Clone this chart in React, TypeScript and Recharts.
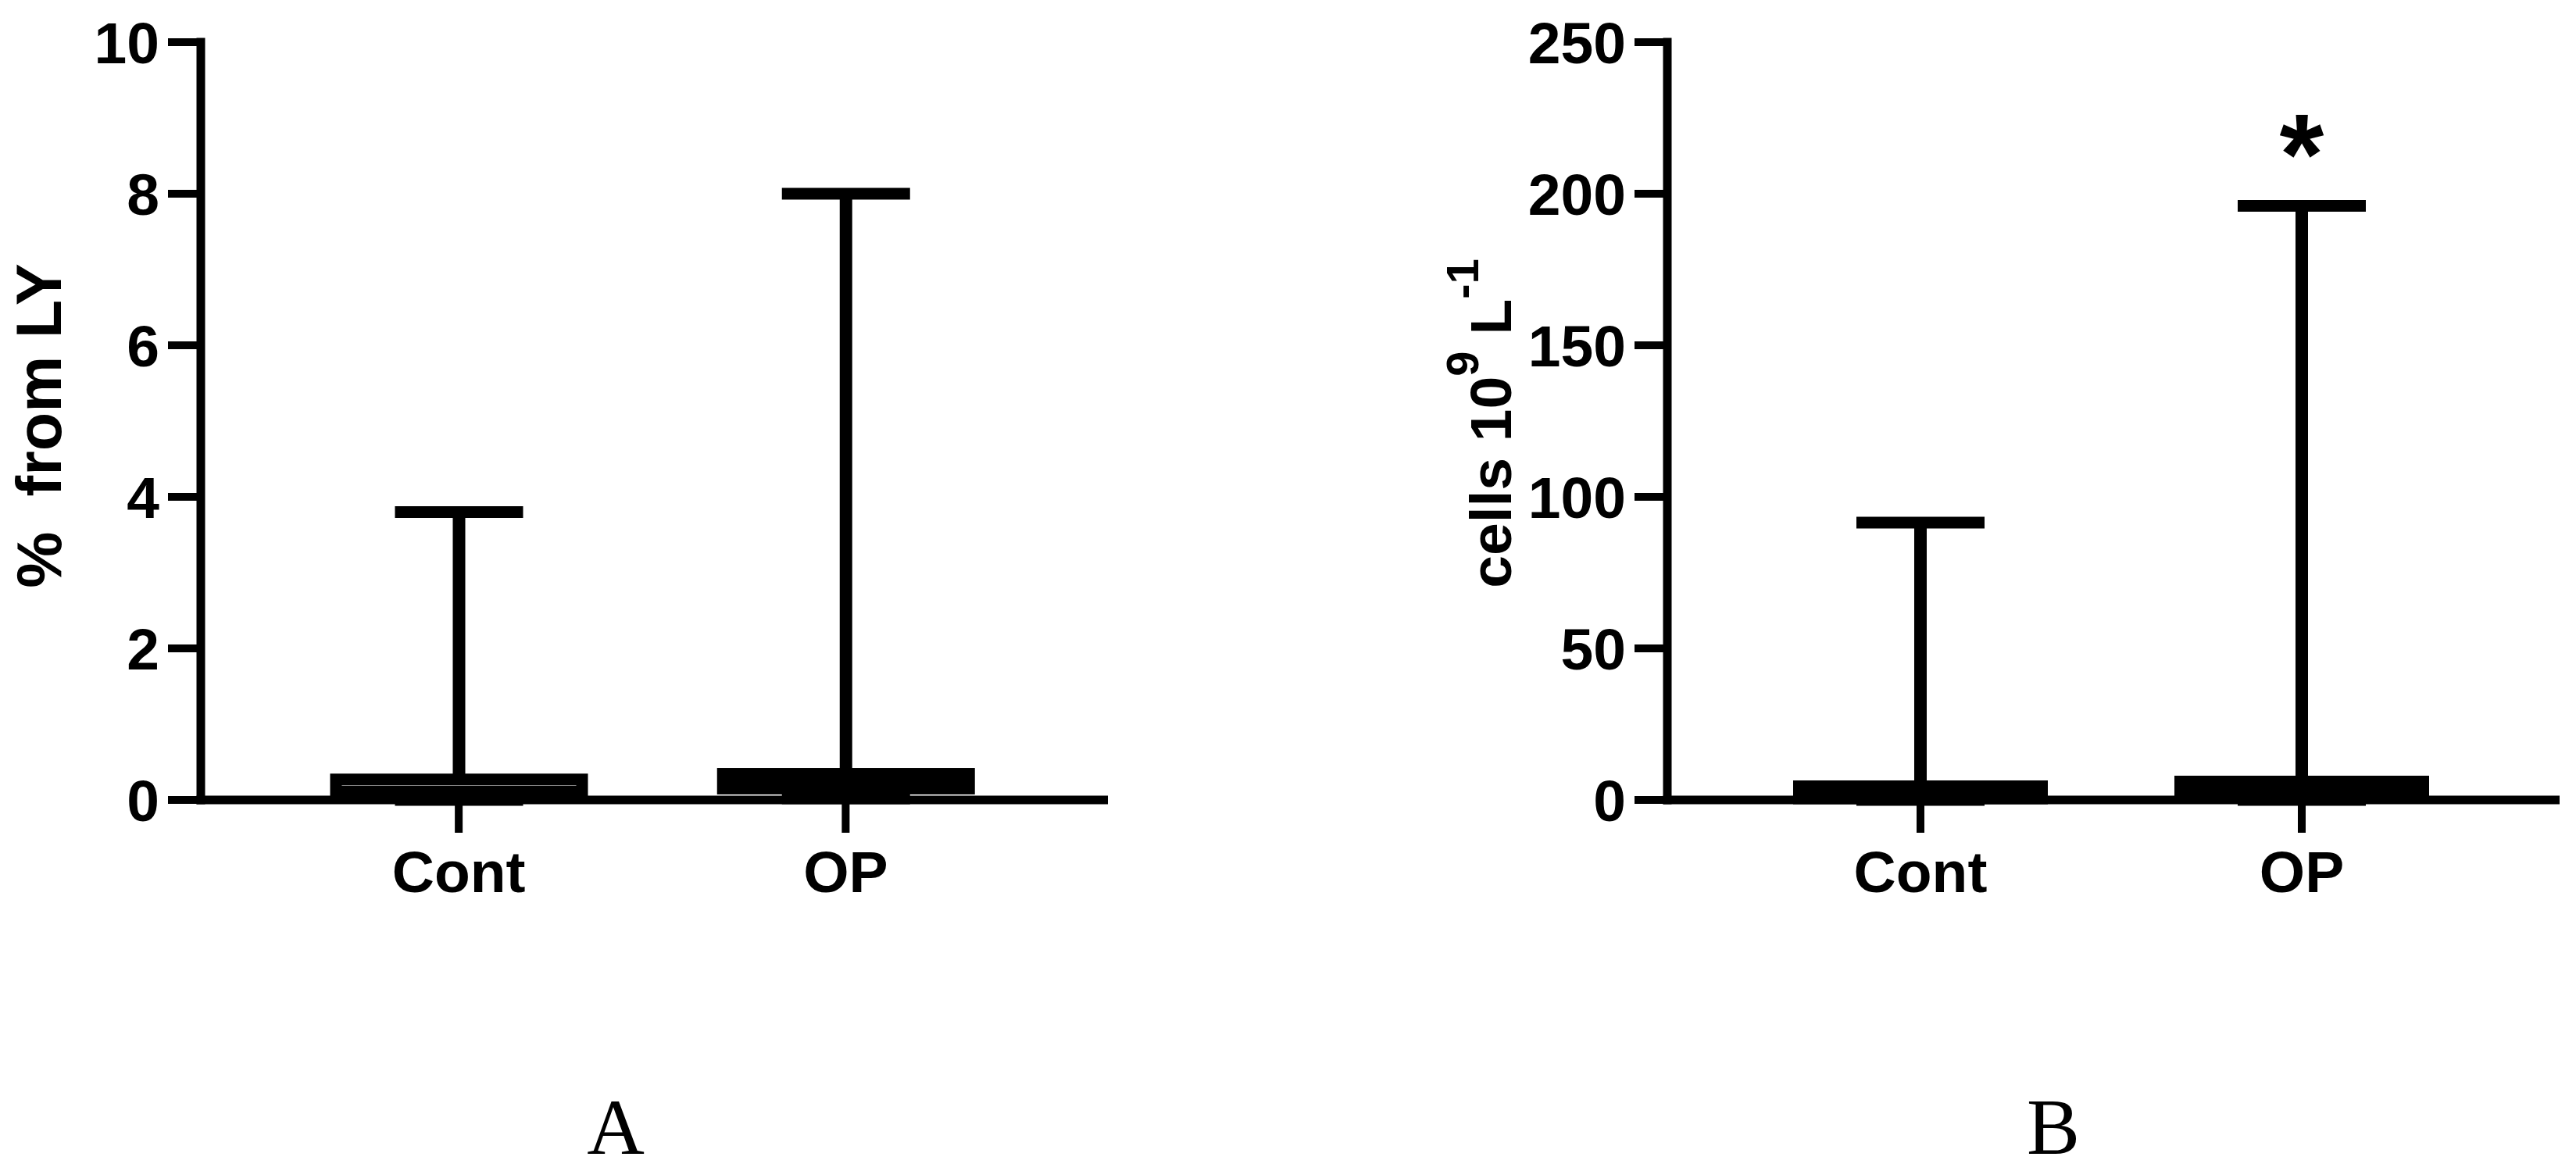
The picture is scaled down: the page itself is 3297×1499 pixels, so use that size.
import React from "react"
import { ComposedChart, Bar, XAxis, YAxis, Label } from "recharts"

const groups = ["Cont", "OP"]

// panel A: % from LY
const lyMin = [0, 0.02]
const lyQ1 = [0.05, 0.15]
const lyMedian = [0.11, 0.25]
const lyQ3 = [0.27, 0.345]
const lyMax = [3.8, 8.0]
const lyTicks = [0, 2, 4, 6, 8, 10]

// panel B: cells 10^9 L^-1
const cellsMin = [0, 0]
const cellsQ1 = [0.5, 1.0]
const cellsMedian = [2.0, 3.0]
const cellsQ3 = [4.5, 6.06]
const cellsMax = [91.5, 196]
const cellsTicks = [0, 50, 100, 150, 200, 250]
const cellsSig = ["", "*"]

const font = "'Liberation Sans', Arial, sans-serif"

function buildRows(min: number[], q1: number[], med: number[], q3: number[], max: number[], sig?: string[]) {
    return groups.map((g, i) => ({
        group: g,
        min: min[i],
        q1: q1[i],
        median: med[i],
        q3: q3[i],
        max: max[i],
        sig: sig ? sig[i] : "",
    }))
}

const lyRows = buildRows(lyMin, lyQ1, lyMedian, lyQ3, lyMax)
const cellsRows = buildRows(cellsMin, cellsQ1, cellsMedian, cellsQ3, cellsMax, cellsSig)

const makeBox = (capWidth: number) => (props: any) => {
    const { x, y, width, height, payload } = props
    const { min, q1, median, q3, max, sig } = payload
    const top = Math.min(y, y + height)
    const bottom = Math.max(y, y + height)
    const span = max - min || 1
    const py = (v: number) => bottom - ((bottom - top) * (v - min)) / span
    const cx = x + width / 2
    return (
        <g>
            <line x1={cx} x2={cx} y1={py(max)} y2={py(q3)} stroke="#000" strokeWidth={16} />
            <line x1={cx} x2={cx} y1={py(q1)} y2={py(min)} stroke="#000" strokeWidth={16} />
            <line x1={cx - capWidth / 2} x2={cx + capWidth / 2} y1={py(max)} y2={py(max)} stroke="#000" strokeWidth={15} />
            <line x1={cx - capWidth / 2} x2={cx + capWidth / 2} y1={py(min)} y2={py(min)} stroke="#000" strokeWidth={15} />
            <rect x={x + 7.5} y={py(q3)} width={width - 15} height={py(q1) - py(q3)} fill="#fff" stroke="#000" strokeWidth={15} />
            <line x1={x + 7.5} x2={x + width - 7.5} y1={py(median)} y2={py(median)} stroke="#000" strokeWidth={15} />
            {sig ? (
                <text x={cx} y={py(max) - 16} textAnchor="middle" fontFamily={font} fontWeight={700} fontSize={146} fill="#000">
                    {sig}
                </text>
            ) : null}
        </g>
    )
}

const tickStyle = { fill: "#000", fontSize: 75, fontWeight: 700, fontFamily: font }
const axisLineStyle = { stroke: "#000", strokeWidth: 11, strokeLinecap: "square" as const }
const tickLineStyle = { stroke: "#000", strokeWidth: 10 }

export default function App() {
    return (
        <div style={{ position: "absolute", left: 0, top: 0, width: 3297, height: 1499, background: "#fff" }}>
            <div style={{ position: "absolute", left: 0, top: 0 }}>
                <ComposedChart width={1480} height={1300} data={lyRows} margin={{ top: 54, right: 67.5, bottom: 76, left: 0 }}>
                    <XAxis
                        dataKey="group"
                        type="category"
                        padding={{ left: 82.5, right: 82.5 }}
                        height={200}
                        interval={0}
                        tickSize={42}
                        tickMargin={23}
                        tick={tickStyle}
                        axisLine={axisLineStyle}
                        tickLine={tickLineStyle}
                    />
                    <YAxis
                        type="number"
                        domain={[0, 10]}
                        ticks={lyTicks}
                        interval={0}
                        width={257}
                        tickSize={42}
                        tickMargin={11}
                        tick={tickStyle}
                        axisLine={axisLineStyle}
                        tickLine={tickLineStyle}
                    >
                        <Label
                            content={() => (
                                <text transform="translate(78,545) rotate(-90)" textAnchor="middle" fontFamily={font} fontWeight={700} fontSize={81} fill="#000">
                                    {"%\u00a0 from LY"}
                                </text>
                            )}
                        />
                    </YAxis>
                    <Bar dataKey={(d: any) => [d.min, d.max]} barSize={330} shape={makeBox(164)} isAnimationActive={false} />
                </ComposedChart>
            </div>
            <div style={{ position: "absolute", left: 1750, top: 0 }}>
                <ComposedChart width={1547} height={1300} data={cellsRows} margin={{ top: 54, right: 26.5, bottom: 76, left: 0 }}>
                    <XAxis
                        dataKey="group"
                        type="category"
                        padding={{ left: 80, right: 80.5 }}
                        height={200}
                        interval={0}
                        tickSize={42}
                        tickMargin={23}
                        tick={tickStyle}
                        axisLine={axisLineStyle}
                        tickLine={tickLineStyle}
                    />
                    <YAxis
                        type="number"
                        domain={[0, 250]}
                        ticks={cellsTicks}
                        interval={0}
                        width={384}
                        tickSize={42}
                        tickMargin={11}
                        tick={tickStyle}
                        axisLine={axisLineStyle}
                        tickLine={tickLineStyle}
                    >
                        <Label
                            content={() => (
                                <text transform="translate(184,542) rotate(-90)" textAnchor="middle" fontFamily={font} fontWeight={700} fontSize={75} fill="#000">
                                    cells 10
                                    <tspan dy={-42} fontSize={58}>9</tspan>
                                    <tspan dy={42}>{"\u00a0L"}</tspan>
                                    <tspan dy={-42} fontSize={58}>-1</tspan>
                                </text>
                            )}
                        />
                    </YAxis>
                    <Bar dataKey={(d: any) => [d.min, d.max]} barSize={326} shape={makeBox(164)} isAnimationActive={false} />
                </ComposedChart>
            </div>
            <svg width={3297} height={1499} style={{ position: "absolute", left: 0, top: 0, pointerEvents: "none" }}>
                <text x={788} y={1477} textAnchor="middle" fontFamily="'Liberation Serif', 'Times New Roman', serif" fontSize={102} fill="#000">
                    A
                </text>
                <text x={2628} y={1477} textAnchor="middle" fontFamily="'Liberation Serif', 'Times New Roman', serif" fontSize={102} fill="#000">
                    B
                </text>
            </svg>
        </div>
    )
}
